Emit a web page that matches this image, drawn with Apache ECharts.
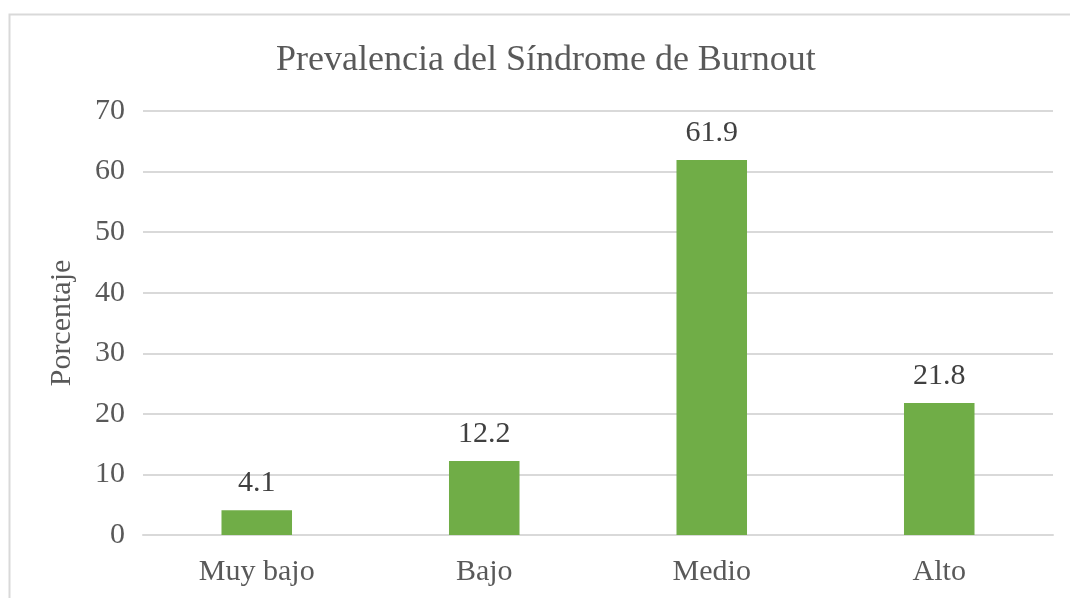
<!DOCTYPE html>
<html>
<head>
<meta charset="utf-8">
<script src="https://cdn.jsdelivr.net/npm/echarts@6/dist/echarts.min.js"></script>
<style>
  html, body { margin: 0; padding: 0; background: #fff; }
  #main { width: 1070px; height: 598px; }
</style>
</head>
<body>
<div id="main"></div>
<script>
// data
const categories = ['Muy bajo', 'Bajo', 'Medio', 'Alto']
const values = [4.1, 12.2, 61.9, 21.8]
const yTicks = [0, 10, 20, 30, 40, 50, 60, 70]

const font = '"Liberation Serif", "Times New Roman", serif'
const textColor = '#595959'
const lineColor = '#d9d9d9'

const myChart = echarts.init(document.getElementById('main'))
myChart.setOption({
    animation: false,
    textStyle: { fontFamily: font },
    title: {
        text: 'Prevalencia del Síndrome de Burnout',
        left: 271,
        top: 38,
        textStyle: {
            color: textColor,
            fontFamily: font,
            fontSize: 36,
            fontWeight: 'normal'
        }
    },
    graphic: [{
        type: 'rect',
        left: 7,
        top: 12,
        shape: { width: 1100, height: 620 },
        style: { fill: 'none', stroke: lineColor, lineWidth: 2 },
        silent: true
    }],
    grid: {
        left: 143,
        right: 17,
        top: 111,
        bottom: 63
    },
    xAxis: {
        type: 'category',
        data: categories,
        axisTick: { show: false },
        axisLine: { lineStyle: { color: lineColor, width: 2 } },
        axisLabel: {
            color: textColor,
            fontFamily: font,
            fontSize: 30,
            margin: 22
        }
    },
    yAxis: {
        type: 'value',
        min: yTicks[0],
        max: yTicks[yTicks.length - 1],
        interval: 10,
        name: 'Porcentaje',
        nameLocation: 'middle',
        nameGap: 66,
        nameTextStyle: {
            color: textColor,
            fontFamily: font,
            fontSize: 30
        },
        axisLine: { show: false },
        axisTick: { show: false },
        axisLabel: {
            color: textColor,
            fontFamily: font,
            fontSize: 30,
            margin: 18
        },
        splitLine: { lineStyle: { color: lineColor, width: 2 } }
    },
    series: [{
        type: 'bar',
        data: values,
        barWidth: '31%',
        itemStyle: { color: '#70ad47' },
        label: {
            show: true,
            position: 'top',
            distance: 12,
            color: '#404040',
            fontFamily: font,
            fontSize: 30,
            formatter: p => p.value.toFixed(1)
        }
    }]
})
</script>
</body>
</html>
